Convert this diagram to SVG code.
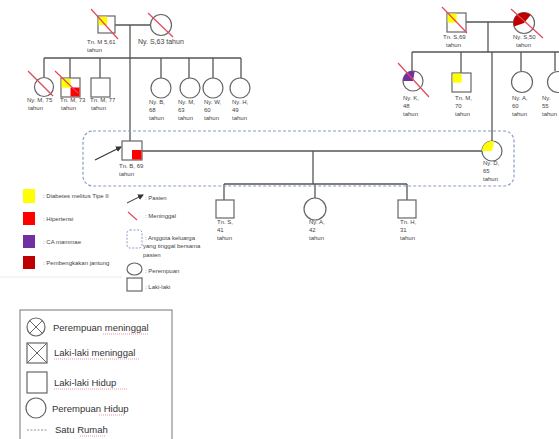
<svg xmlns="http://www.w3.org/2000/svg" width="559" height="439" viewBox="0 0 559 439">
<defs>
<style>
.ln{stroke:#555;stroke-width:1.3;fill:none}
.sh{stroke:#666;stroke-width:1.2;fill:#fff}
.sl{stroke:#e2475c;stroke-width:1.2}
.t{font-family:"Liberation Sans",Arial,sans-serif;font-size:6px;fill:#444}
.lg{font-family:"Liberation Sans",Arial,sans-serif;font-size:6px;fill:#444}
.bl{font-family:"Liberation Sans",Arial,sans-serif;font-size:9.5px;fill:#333}
.wv{stroke:#e05060;stroke-width:0.6;stroke-dasharray:1 1}
</style>
<marker id="ah" markerWidth="6" markerHeight="6" refX="5" refY="3" orient="auto" markerUnits="userSpaceOnUse">
<path d="M0,0 L6,3 L0,6 Z" fill="#333"/>
</marker>
</defs>
<rect width="559" height="439" fill="#fff"/>

<g id="connectors">
<line class="ln" x1="115" y1="25" x2="150" y2="25"/>
<line class="ln" x1="130" y1="25" x2="130" y2="141"/>
<line class="ln" x1="44" y1="58" x2="241" y2="58"/>
<line class="ln" x1="44" y1="58" x2="44" y2="77"/>
<line class="ln" x1="70" y1="58" x2="70" y2="78"/>
<line class="ln" x1="100" y1="58" x2="100" y2="78"/>
<line class="ln" x1="161" y1="58" x2="161" y2="78"/>
<line class="ln" x1="189" y1="58" x2="189" y2="78"/>
<line class="ln" x1="213" y1="58" x2="213" y2="78"/>
<line class="ln" x1="241" y1="58" x2="241" y2="78"/>
<line class="ln" x1="466" y1="22" x2="513" y2="22"/>
<line class="ln" x1="488" y1="22" x2="488" y2="52"/>
<line class="ln" x1="412" y1="52" x2="559" y2="52"/>
<line class="ln" x1="412" y1="52" x2="412" y2="71"/>
<line class="ln" x1="461" y1="52" x2="461" y2="73"/>
<line class="ln" x1="521" y1="52" x2="521" y2="71"/>
<line class="ln" x1="555" y1="52" x2="555" y2="71"/>
<line class="ln" x1="492" y1="52" x2="492" y2="141"/>
<line class="ln" x1="142" y1="151" x2="482" y2="151"/>
<line class="ln" x1="313" y1="151" x2="313" y2="184"/>
<line class="ln" x1="224" y1="184" x2="407" y2="184"/>
<line class="ln" x1="224" y1="184" x2="224" y2="200"/>
<line class="ln" x1="315" y1="184" x2="315" y2="198"/>
<line class="ln" x1="407" y1="184" x2="407" y2="200"/>
<line x1="95" y1="160" x2="121" y2="147" stroke="#333" stroke-width="1.2" marker-end="url(#ah)"/>
</g>

<rect id="household" x="83" y="131" width="431" height="55" rx="10" fill="none" stroke="#8c9cc8" stroke-width="1.2" stroke-dasharray="3 2"/>

<g id="tnM561">
<rect class="sh" x="98" y="16" width="17" height="17"/>
<rect x="98.6" y="16.6" width="8.5" height="8.5" fill="#ffff00"/>
<line class="sl" x1="91" y1="9" x2="118" y2="39"/>
<text class="t" x="87" y="44">Tn. M 5,61</text>
<text class="t" x="87" y="52">tahun</text>
</g>
<g id="nyS63">
<circle class="sh" cx="161" cy="25" r="10.5"/>
<line class="sl" x1="148" y1="13" x2="173" y2="37"/>
<text class="t" x="138" y="44" style="font-size:7px">Ny. S,63 tahun</text>
</g>

<g id="nyM75">
<circle class="sh" cx="44" cy="87" r="9.5"/>
<line class="sl" x1="28" y1="71" x2="53" y2="96"/>
<text class="t" x="27" y="102">Ny. M, 75</text>
<text class="t" x="28" y="110">tahun</text>
</g>
<g id="tnM73">
<rect class="sh" x="61" y="78" width="19" height="19"/>
<rect x="61.6" y="78.6" width="9" height="9" fill="#ffff00"/>
<rect x="70.5" y="87.5" width="9" height="9" fill="#ff0000"/>
<line class="sl" x1="55" y1="71" x2="78" y2="93"/>
<text class="t" x="60" y="102">Tn. M, 73</text>
<text class="t" x="61" y="110">tahun</text>
</g>
<g id="tnM77">
<rect class="sh" x="91" y="78" width="19" height="19"/>
<text class="t" x="90" y="102">Tn. M, 77</text>
<text class="t" x="91" y="110">tahun</text>
</g>
<g id="nyB">
<circle class="sh" cx="161" cy="88" r="10"/>
<text class="t" x="149" y="104">Ny. B,</text>
<text class="t" x="149" y="112">68</text>
<text class="t" x="149" y="120">tahun</text>
</g>
<g id="nyM63">
<circle class="sh" cx="190" cy="88" r="10"/>
<text class="t" x="178" y="104">Ny. M,</text>
<text class="t" x="178" y="112">63</text>
<text class="t" x="178" y="120">tahun</text>
</g>
<g id="nyW">
<circle class="sh" cx="213" cy="88" r="10"/>
<text class="t" x="204" y="104">Ny. W,</text>
<text class="t" x="204" y="112">60</text>
<text class="t" x="204" y="120">tahun</text>
</g>
<g id="nyH">
<circle class="sh" cx="240" cy="88" r="10"/>
<text class="t" x="232" y="104">Ny. H,</text>
<text class="t" x="232" y="112">49</text>
<text class="t" x="232" y="120">tahun</text>
</g>

<g id="tnS69">
<rect class="sh" x="447" y="13" width="19" height="19"/>
<rect x="447.6" y="13.6" width="9" height="9" fill="#ffff00"/>
<line class="sl" x1="442" y1="7" x2="467" y2="33"/>
<text class="t" x="443" y="39">Tn. S,69</text>
<text class="t" x="446" y="47">tahun</text>
</g>
<g id="nyS50">
<circle class="sh" cx="524" cy="23" r="10.5"/>
<path d="M524,23 L514.1,26.6 A10.5,10.5 0 0 1 530.7,14.9 Z" fill="#c00000"/>
<line class="sl" x1="511" y1="9" x2="543" y2="38"/>
<text class="t" x="513" y="39">Ny. S,50</text>
<text class="t" x="516" y="47">tahun</text>
</g>
<g id="nyK">
<circle class="sh" cx="413" cy="81" r="10"/>
<path d="M413,81 L403,81 A10,10 0 0 1 414.7,71.2 Z" fill="#7030a0"/>
<line class="sl" x1="398" y1="63" x2="429" y2="97"/>
<text class="t" x="403" y="100">Ny. K,</text>
<text class="t" x="403" y="108">48</text>
<text class="t" x="403" y="116">tahun</text>
</g>
<g id="tnM70">
<rect class="sh" x="452" y="73" width="19" height="19"/>
<rect x="452.6" y="73.6" width="9" height="9" fill="#ffff00"/>
<text class="t" x="455" y="100">Tn. M,</text>
<text class="t" x="455" y="108">70</text>
<text class="t" x="455" y="116">tahun</text>
</g>
<g id="nyA60">
<circle class="sh" cx="522" cy="82" r="10.5"/>
<text class="t" x="512" y="100">Ny. A,</text>
<text class="t" x="512" y="108">60</text>
<text class="t" x="512" y="116">tahun</text>
</g>
<g id="ny55">
<circle class="sh" cx="558" cy="82" r="10.5"/>
<text class="t" x="542" y="100">Ny.</text>
<text class="t" x="542" y="108">55</text>
<text class="t" x="542" y="116">tahun</text>
</g>

<g id="tnB">
<rect class="sh" x="122" y="141" width="20" height="19"/>
<rect x="132" y="150" width="9.5" height="9.5" fill="#ff0000"/>
<text class="t" x="119" y="168">Tn. B, 69</text>
<text class="t" x="119" y="176">tahun</text>
</g>
<g id="nyD">
<circle class="sh" cx="492" cy="151" r="10"/>
<path d="M492,151 L482,151 A10,10 0 0 1 494,141.2 Z" fill="#ffff00"/>
<text class="t" x="483" y="165">Ny. D,</text>
<text class="t" x="483" y="173">65</text>
<text class="t" x="483" y="181">tahun</text>
</g>

<g id="tnS41">
<rect class="sh" x="216" y="200" width="18" height="18"/>
<text class="t" x="217" y="224">Tn. S,</text>
<text class="t" x="217" y="232">41</text>
<text class="t" x="217" y="240">tahun</text>
</g>
<g id="nyA42">
<circle class="sh" cx="315" cy="209" r="11"/>
<text class="t" x="309" y="224">Ny. A,</text>
<text class="t" x="309" y="232">42</text>
<text class="t" x="309" y="240">tahun</text>
</g>
<g id="tnH">
<rect class="sh" x="398" y="200" width="18" height="18"/>
<text class="t" x="400" y="224">Tn. H,</text>
<text class="t" x="400" y="232">31</text>
<text class="t" x="400" y="240">tahun</text>
</g>

<g id="legend1">
<rect x="23" y="189" width="12" height="14" fill="#ffff00"/>
<text class="lg" x="43" y="198">: Diabetes melitus Tipe II</text>
<rect x="23" y="212" width="12" height="13" fill="#ff0000"/>
<text class="lg" x="43" y="221">: Hipertensi</text>
<rect x="23" y="235" width="12" height="13" fill="#7030a0"/>
<text class="lg" x="43" y="244">: CA mammae</text>
<rect x="23" y="256" width="12" height="13" fill="#c00000"/>
<text class="lg" x="43" y="265">: Pembengkakan jantung</text>
<line x1="127" y1="203" x2="143" y2="195" stroke="#333" stroke-width="1" marker-end="url(#ah)"/>
<text class="lg" x="145" y="200">: Pasien</text>
<line class="sl" x1="128" y1="212" x2="137" y2="220"/>
<text class="lg" x="145" y="218">: Meninggal</text>
<rect x="127" y="230" width="15" height="18" rx="3" fill="none" stroke="#8c9cc8" stroke-width="1" stroke-dasharray="2 1.5"/>
<text class="lg" x="145" y="240">: Anggota keluarga</text>
<text class="lg" x="143" y="248">yang tinggal bersama</text>
<text class="lg" x="143" y="257">pasien</text>
<ellipse class="sh" cx="134.5" cy="269" rx="7.5" ry="6"/>
<text class="lg" x="145" y="273">: Perempuan</text>
<rect class="sh" x="127" y="278" width="15" height="13"/>
<text class="lg" x="145" y="289">: Laki-laki</text>
<line x1="0" y1="277" x2="122" y2="277" stroke="#e4e4e4" stroke-width="0.8"/>
</g>

<g id="legend2">
<rect x="20" y="310" width="152" height="135" fill="#fff" stroke="#777" stroke-width="1"/>
<circle class="sh" cx="36" cy="327" r="9"/>
<line x1="29.6" y1="320.6" x2="42.4" y2="333.4" stroke="#666" stroke-width="1"/>
<line x1="42.4" y1="320.6" x2="29.6" y2="333.4" stroke="#666" stroke-width="1"/>
<text class="bl" x="53" y="331">Perempuan meninggal</text>
<line class="wv" x1="103" y1="334" x2="148" y2="334"/>
<rect class="sh" x="27" y="343" width="20" height="20"/>
<line x1="27" y1="343" x2="47" y2="363" stroke="#666" stroke-width="1"/>
<line x1="47" y1="343" x2="27" y2="363" stroke="#666" stroke-width="1"/>
<text class="bl" x="54" y="356">Laki-laki meninggal</text>
<line class="wv" x1="54" y1="359" x2="140" y2="359"/>
<rect class="sh" x="27" y="372" width="20" height="21"/>
<text class="bl" x="54" y="386">Laki-laki Hidup</text>
<line class="wv" x1="54" y1="389" x2="127" y2="389"/>
<circle class="sh" cx="36" cy="408" r="10"/>
<text class="bl" x="52" y="412">Perempuan Hidup</text>
<line class="wv" x1="99" y1="415" x2="125" y2="415"/>
<line x1="27" y1="430" x2="47" y2="430" stroke="#777" stroke-width="0.8" stroke-dasharray="2 1.5"/>
<text class="bl" x="55" y="433">Satu Rumah</text>
<line class="wv" x1="80" y1="436" x2="105" y2="436"/>
</g>
</svg>
